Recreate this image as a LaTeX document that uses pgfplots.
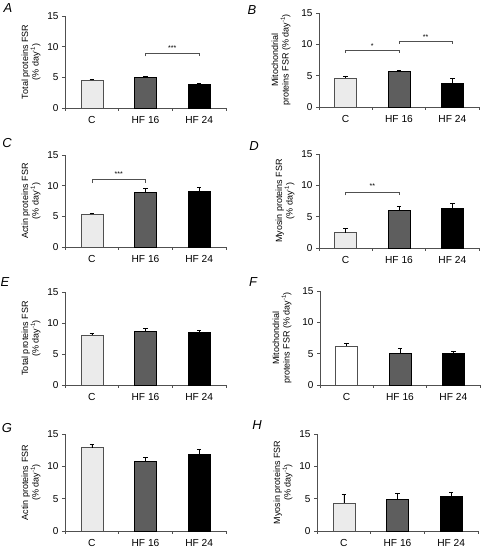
\documentclass[border=0pt]{standalone}
\usepackage{fontspec}
\setmainfont{Liberation Sans}
\usepackage{pgfplots}
\pgfplotsset{compat=1.18}
\definecolor{cbar}{HTML}{EBEBEB}
\definecolor{hfa}{HTML}{5E5E5E}
\definecolor{axc}{HTML}{505050}
\tikzset{
  brk/.style={axc, line width=0.6pt},
  stars/.style={font=\fontsize{7}{8}\selectfont},
  lett/.style={font=\itshape\fontsize{13}{14}\selectfont},
}
\newcommand\perday{(\% day\textsuperscript{-1})}
\pgfplotsset{
  panel/.style={
    scale only axis, width=161pt, height=94pt,
    xmin=-0.5, xmax=2.5, ymin=0, ymax=15,
    ytick={0,5,10,15},
    xtick={0,1,2}, xticklabels={C,HF 16,HF 24},
    minor xtick={-0.5,0.5,1.5,2.5},
    axis x line*=bottom, axis y line*=left,
    axis line style={axc, line width=0.6pt, -},
    tick align=outside,
    major x tick style={draw=none},
    minor tick length=3pt, major tick length=3pt,
    every tick/.style={axc, line width=0.6pt},
    /pgf/number format/assume math mode=true,
    yticklabel style={font=\fontsize{10}{11}\selectfont},
    xticklabel style={font=\fontsize{10.2}{11}\selectfont, yshift=-2pt},
    ylabel style={align=center, font=\fontsize{9}{10.5}\selectfont},
    clip=false,
  },
  bC/.style={ybar, bar width=22pt, bar shift=0pt, fill=cbar, draw=axc, line width=0.5pt,
    error bars/y dir=plus, error bars/y explicit,
    error bars/error bar style={black, line width=0.6pt},
    error bars/error mark options={rotate=90, black, mark size=2.2pt, line width=0.6pt}},
  bW/.style={bC, fill=white},
  bH/.style={bC, fill=hfa, draw=black},
  bK/.style={bC, fill=black, draw=black},
}
\begin{document}
\begin{tikzpicture}
\useasboundingbox (0pt,0pt) rectangle (480pt,548pt);
\node[lett] at (8pt,540pt) {A};
\node[lett] at (252pt,538pt) {B};
\node[lett] at (7pt,405pt) {C};
\node[lett] at (254pt,402pt) {D};
\node[lett] at (5pt,266pt) {E};
\node[lett] at (253pt,266pt) {F};
\node[lett] at (7pt,120pt) {G};
\node[lett] at (257pt,123pt) {H};

% A
\begin{axis}[panel, height=92pt, at={(65pt,440pt)}, anchor=south west,
  ylabel={Total proteins FSR\\\perday}]
\addplot[bC] coordinates {(0,4.5) +- (0,0.15)};
\addplot[bH] coordinates {(1,5.0) +- (0,0.15)};
\addplot[bK] coordinates {(2,3.8) +- (0,0.2)};
\draw[brk] (1,8.4) -- (1,8.9) -- (2,8.9) -- (2,8.4);
\node[stars] at (1.5,9.7) {***};
\end{axis}

% B
\begin{axis}[panel, width=160pt, height=94pt, at={(319pt,441pt)}, anchor=south west,
  ylabel={Mitochondrial\\proteins FSR \perday}, ylabel style={yshift=4pt}]
\addplot[bC] coordinates {(0,4.6) +- (0,0.35)};
\addplot[bH] coordinates {(1,5.67) +- (0,0.2)};
\addplot[bK] coordinates {(2,3.8) +- (0,0.7)};
\draw[brk] (0,8.6) -- (0,9.0) -- (1,9.0) -- (1,8.6);
\node[stars] at (0.5,9.7) {*};
\draw[brk] (1,10.1) -- (1,10.5) -- (2,10.5) -- (2,10.1);
\node[stars] at (1.5,11.2) {**};
\end{axis}

% C
\begin{axis}[panel, height=92pt, at={(65pt,301pt)}, anchor=south west,
  ylabel={Actin proteins FSR\\\perday}]
\addplot[bC] coordinates {(0,5.4) +- (0,0.15)};
\addplot[bH] coordinates {(1,8.9) +- (0,0.6)};
\addplot[bK] coordinates {(2,9.15) +- (0,0.6)};
\draw[brk] (0,10.4) -- (0,11.0) -- (1,11.0) -- (1,10.4);
\node[stars] at (0.5,11.9) {***};
\end{axis}

% D
\begin{axis}[panel, width=160pt, height=94pt, at={(319pt,300pt)}, anchor=south west,
  ylabel={Myosin proteins FSR\\\perday}]
\addplot[bC] coordinates {(0,2.45) +- (0,0.65)};
\addplot[bH] coordinates {(1,5.95) +- (0,0.65)};
\addplot[bK] coordinates {(2,6.37) +- (0,0.7)};
\draw[brk] (0,8.4) -- (0,8.95) -- (1,8.95) -- (1,8.4);
\node[stars] at (0.5,9.8) {**};
\end{axis}

% E
\begin{axis}[panel, height=93pt, at={(65pt,163pt)}, anchor=south west,
  ylabel={Total proteins FSR\\\perday}]
\addplot[bC] coordinates {(0,8.0) +- (0,0.3)};
\addplot[bH] coordinates {(1,8.65) +- (0,0.43)};
\addplot[bK] coordinates {(2,8.54) +- (0,0.26)};
\end{axis}

% F
\begin{axis}[panel, width=160pt, height=94pt, at={(320pt,163pt)}, anchor=south west,
  ylabel={Mitochondrial\\proteins FSR \perday}, ylabel style={yshift=4pt}]
\addplot[bW] coordinates {(0,6.2) +- (0,0.47)};
\addplot[bH] coordinates {(1,5.13) +- (0,0.67)};
\addplot[bK] coordinates {(2,5.13) +- (0,0.32)};
\end{axis}

% G
\begin{axis}[panel, height=97pt, at={(65pt,17pt)}, anchor=south west,
  ylabel={Actin proteins FSR\\\perday}]
\addplot[bC] coordinates {(0,12.9) +- (0,0.45)};
\addplot[bH] coordinates {(1,10.8) +- (0,0.63)};
\addplot[bK] coordinates {(2,11.85) +- (0,0.82)};
\end{axis}

% H
\begin{axis}[panel, width=161pt, height=97pt, at={(317pt,17pt)}, anchor=south west,
  ylabel={Myosin proteins FSR\\\perday}]
\addplot[bC] coordinates {(0,4.35) +- (0,1.39)};
\addplot[bH] coordinates {(1,4.9) +- (0,0.9)};
\addplot[bK] coordinates {(2,5.43) +- (0,0.57)};
\end{axis}
\end{tikzpicture}
\end{document}
